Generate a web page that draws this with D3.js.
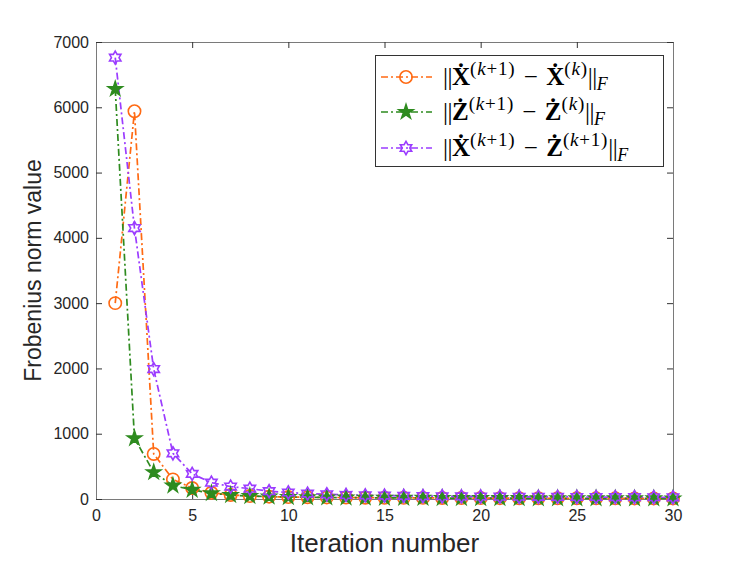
<!DOCTYPE html>
<html>
<head>
<meta charset="utf-8">
<script src="https://cdn.jsdelivr.net/npm/d3@7"></script>
<style>
  body { margin: 0; background: #fff; }
</style>
</head>
<body>
<svg width="747" height="561"></svg>
<script>
var iterations = d3.range(1, 31);
var diffX = [3000, 5940, 690, 300, 168, 95, 62, 46, 36, 30, 27, 24, 22, 20, 19, 18, 17, 16, 15, 14, 13, 12, 12, 11, 11, 10, 10, 9, 9, 9];
var diffZ = [6280, 930, 410, 205, 140, 88, 60, 45, 36, 30, 26, 23, 21, 19, 18, 17, 16, 15, 14, 13, 12, 12, 11, 11, 10, 10, 9, 9, 9, 8];
var diffXZ = [6760, 4150, 1990, 700, 385, 250, 190, 158, 120, 100, 82, 72, 62, 56, 52, 48, 45, 42, 40, 38, 36, 34, 33, 32, 31, 30, 29, 28, 27, 26];
var xTicks = [0, 5, 10, 15, 20, 25, 30];
var yTicks = [0, 1000, 2000, 3000, 4000, 5000, 6000, 7000];

var svg = d3.select("svg");
var mLeft = 96, mRight = 673, mTop = 42, mBottom = 499;
var sans = "Liberation Sans, Arial, sans-serif";
var serif = "Liberation Serif, Times New Roman, serif";

var x = d3.scaleLinear().domain([0, 30]).range([mLeft, mRight]);
var y = d3.scaleLinear().domain([0, 7000]).range([mBottom, mTop]);

var axisColor = "#7a7a7a";
var dash = "7,3,2,3";

// hexagram (two triangles), like matlab 'h'
var hexagram = {
  draw: function (ctx, size) {
    var r = Math.sqrt(size) / 1.6;
    var pts = [];
    for (var i = 0; i < 12; i++) {
      var a = -Math.PI / 2 + i * Math.PI / 6;
      var rr = i % 2 === 0 ? r : r * 0.577;
      pts.push([rr * Math.cos(a), rr * Math.sin(a)]);
    }
    ctx.moveTo(pts[0][0], pts[0][1]);
    for (var j = 1; j < pts.length; j++) ctx.lineTo(pts[j][0], pts[j][1]);
    ctx.closePath();
  }
};

var series = [
  { name: "X", values: diffX, color: "#ff6a13", symbol: d3.symbolCircle, size: 120, fill: "none" },
  { name: "Z", values: diffZ, color: "#2e8b1f", symbol: d3.symbolStar, size: 62, fill: "#2e8b1f" },
  { name: "XZ", values: diffXZ, color: "#9b3cff", symbol: hexagram, size: 110, fill: "none" }
];

// axes box
var gx = svg.append("g").attr("transform", "translate(0," + mBottom + ")")
  .call(d3.axisBottom(x).tickValues(xTicks).tickSizeInner(-6).tickSizeOuter(0).tickPadding(14));
var gxTop = svg.append("g").attr("transform", "translate(0," + mTop + ")")
  .call(d3.axisTop(x).tickValues(xTicks).tickSizeInner(-6).tickSizeOuter(0).tickFormat(""));
var gy = svg.append("g").attr("transform", "translate(" + mLeft + ",0)")
  .call(d3.axisLeft(y).tickValues(yTicks).tickSizeInner(-6).tickSizeOuter(0).tickPadding(7).tickFormat(d3.format("d")));
var gyRight = svg.append("g").attr("transform", "translate(" + mRight + ",0)")
  .call(d3.axisRight(y).tickValues(yTicks).tickSizeInner(-6).tickSizeOuter(0).tickFormat(""));

[gx, gxTop, gy, gyRight].forEach(function (g) {
  g.attr("font-family", sans).attr("font-size", 16);
  g.select(".domain").attr("stroke", axisColor).attr("stroke-width", 1);
  g.selectAll(".tick line").attr("stroke", "#333");
  g.selectAll(".tick text").attr("fill", "#262626");
});
gx.selectAll(".tick text").attr("dy", "0.5em");

// lines + markers
var line = d3.line().x(function (d, i) { return x(iterations[i]); }).y(function (d) { return y(d); });

series.forEach(function (s) {
  svg.append("path")
    .datum(s.values)
    .attr("d", line)
    .attr("fill", "none")
    .attr("stroke", s.color)
    .attr("stroke-width", 1.7)
    .attr("stroke-dasharray", dash);
});

series.forEach(function (s) {
  svg.append("g").selectAll("path")
    .data(s.values)
    .enter()
    .append("path")
    .attr("transform", function (d, i) { return "translate(" + x(iterations[i]) + "," + y(d) + ")"; })
    .attr("d", d3.symbol().type(s.symbol).size(s.size))
    .attr("fill", s.fill)
    .attr("stroke", s.color)
    .attr("stroke-width", 1.6);
});

// axis labels
svg.append("text")
  .attr("x", (mLeft + mRight) / 2).attr("y", 552)
  .attr("text-anchor", "middle")
  .attr("font-family", sans)
  .attr("font-size", 26)
  .attr("fill", "#262626")
  .text("Iteration number");

svg.append("text")
  .attr("transform", "translate(41," + (mTop + mBottom) / 2 + ") rotate(-90)")
  .attr("text-anchor", "middle")
  .attr("font-family", sans)
  .attr("font-size", 23)
  .attr("fill", "#262626")
  .text("Frobenius norm value");

// legend
var legend = svg.append("g");
legend.append("rect")
  .attr("x", 375.5).attr("y", 55.5).attr("width", 288).attr("height", 111)
  .attr("fill", "#fff").attr("stroke", "#333").attr("stroke-width", 1);

var minus = "\u2004−\u2004";
var labels = [
  [["||", "n"], ["X\u0307", "b"], ["(", "sup"], ["k", "supi"], ["+1)", "sup"], [minus, ""], ["X\u0307", "b"], ["(", "sup"], ["k", "supi"], [")", "sup"], ["||", "n"], ["F", "subi"]],
  [["||", "n"], ["Z\u0307", "b"], ["(", "sup"], ["k", "supi"], ["+1)", "sup"], [minus, ""], ["Z\u0307", "b"], ["(", "sup"], ["k", "supi"], [")", "sup"], ["||", "n"], ["F", "subi"]],
  [["||", "n"], ["X\u0307", "b"], ["(", "sup"], ["k", "supi"], ["+1)", "sup"], [minus, ""], ["Z\u0307", "b"], ["(", "sup"], ["k", "supi"], ["+1)", "sup"], ["||", "n"], ["F", "subi"]]
];
var rowY = [77, 112, 148];

series.forEach(function (s, i) {
  var ly = rowY[i];
  legend.append("line")
    .attr("x1", 381).attr("x2", 432).attr("y1", ly).attr("y2", ly)
    .attr("stroke", s.color).attr("stroke-width", 1.7)
    .attr("stroke-dasharray", dash);
  legend.append("path")
    .attr("transform", "translate(406," + ly + ")")
    .attr("d", d3.symbol().type(s.symbol).size(s.size))
    .attr("fill", s.fill).attr("stroke", s.color).attr("stroke-width", 1.6);

  var t = legend.append("text")
    .attr("x", 443).attr("y", ly + 8)
    .attr("font-family", serif)
    .attr("font-size", 25)
    .attr("fill", "#000");
  var shift = 0;
  labels[i].forEach(function (p) {
    var kind = p[1];
    var target = 0, size = 25, style = "normal", weight = "normal";
    if (kind === "b") weight = "bold";
    if (kind === "sup" || kind === "supi") { target = -10; size = 19; }
    if (kind === "subi") { target = 5; size = 18; }
    if (kind === "supi" || kind === "subi") style = "italic";
    var ts = t.append("tspan")
      .attr("dy", target - shift)
      .attr("font-size", size)
      .attr("font-style", style)
      .attr("font-weight", weight)
      .style("white-space", "pre")
      .text(p[0]);
    if (kind === "n") ts.attr("letter-spacing", -0.5);
    if (kind === "sup" || kind === "supi") ts.attr("letter-spacing", 0.8);
    shift = target;
  });
});
</script>
</body>
</html>
